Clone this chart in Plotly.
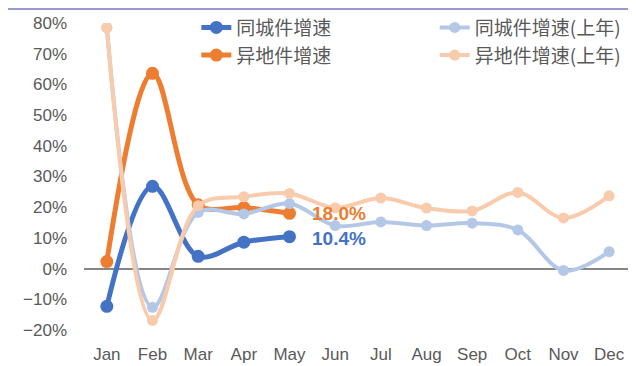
import plotly.graph_objects as go

months = ["Jan", "Feb", "Mar", "Apr", "May", "Jun", "Jul", "Aug", "Sep", "Oct", "Nov", "Dec"]
same_city = [-12.3, 26.8, 4.0, 8.6, 10.4]
cross_city = [2.3, 63.6, 20.8, 19.9, 18.0]
same_city_prev = [78.5, -12.6, 18.3, 17.8, 21.2, 14.0, 15.2, 14.0, 14.8, 12.6, -0.6, 5.5]
cross_city_prev = [78.5, -16.9, 20.5, 23.4, 24.5, 19.8, 23.0, 19.7, 18.8, 24.8, 16.5, 23.7]

names = ["同城件增速", "异地件增速", "同城件增速(上年)", "异地件增速(上年)"]
colors = ["#4472C4", "#ED7D31", "#B4C7E7", "#F8CBAD"]

fig = go.Figure()
series = [
    (same_city, months[:5], names[0], colors[0], 5, 13, "legend"),
    (cross_city, months[:5], names[1], colors[1], 5, 13, "legend2"),
    (same_city_prev, months, names[2], colors[2], 4, 11, "legend3"),
    (cross_city_prev, months, names[3], colors[3], 4, 11, "legend4"),
]
for vals, xs, nm, col, lw, ms, lg in series:
    fig.add_trace(go.Scatter(
        x=xs, y=vals, name=nm, mode="lines+markers",
        line=dict(color=col, width=lw, shape="spline", smoothing=1.0),
        marker=dict(color=col, size=ms),
        legend=lg,
    ))

fig.add_annotation(x="May", y=cross_city[-1], text="<b>18.0%</b>", showarrow=False,
                   xanchor="left", xshift=20, yshift=0,
                   font=dict(color=colors[1], size=19, family="Liberation Sans"))
fig.add_annotation(x="May", y=same_city[-1], text="<b>10.4%</b>", showarrow=False,
                   xanchor="left", xshift=20, yshift=-2,
                   font=dict(color=colors[0], size=19, family="Liberation Sans"))

# thin top border
fig.add_shape(type="line", xref="paper", yref="paper", x0=-0.14, x1=1.02,
              y0=1.046, y1=1.046, line=dict(color="#9999D6", width=2))

legend_font = dict(family="Noto Sans CJK SC", size=19, color="#595959")
def leg(x, y):
    return dict(x=x, y=y, xanchor="left", yanchor="middle", bgcolor="rgba(0,0,0,0)",
                font=legend_font, itemwidth=30)

fig.update_layout(
    width=636, height=366,
    margin=dict(l=76, r=12, t=15, b=44, autoexpand=False),
    paper_bgcolor="white", plot_bgcolor="white",
    showlegend=True,
    legend=leg(0.205, 0.985),
    legend2=leg(0.205, 0.895),
    legend3=leg(0.64, 0.985),
    legend4=leg(0.64, 0.895),
    font=dict(family="Liberation Sans", size=17, color="#595959"),
)
fig.update_xaxes(
    type="category", categoryorder="array", categoryarray=months,
    range=[-0.5, 11.5], showgrid=False, showline=False, zeroline=False,
    ticks="", ticklabelstandoff=12, tickfont=dict(size=17, color="#595959"),
)
fig.update_yaxes(
    range=[-20, 80], dtick=10, ticksuffix="%", showgrid=False, showline=False,
    zeroline=True, zerolinecolor="#868686", zerolinewidth=2,
    ticks="", ticklabelstandoff=16, tickfont=dict(size=17, color="#595959"),
)

fig.write_html("out.html")
